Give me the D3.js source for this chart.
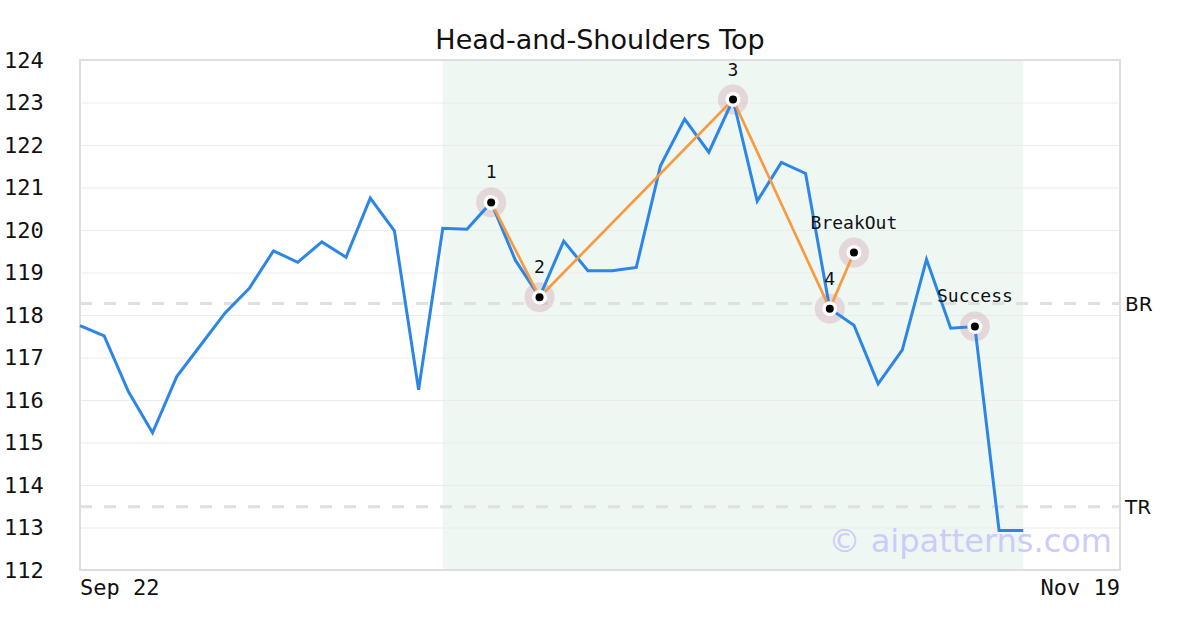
<!DOCTYPE html>
<html>
<head>
<meta charset="utf-8">
<title>Head-and-Shoulders Top</title>
<script src="https://cdn.jsdelivr.net/npm/d3@7"></script>
<style>
  html, body { margin: 0; padding: 0; background: #fff; }
  svg { display: block; }
</style>
</head>
<body>
<div id="chart"></div>
<script>
// --- Data ---
// closing price per trading day, index 0 = Sep 22
const prices = [
  117.75, 117.51, 116.20, 115.23, 116.55, 117.30, 118.05, 118.63, 119.51, 119.24,
  119.72, 119.36, 120.75, 119.98, 116.24, 120.04, 120.02, 120.65, 119.29, 118.42,
  119.74, 119.04, 119.04, 119.12, 121.51, 122.61, 121.83, 123.07, 120.68, 121.59,
  121.33, 118.15, 117.76, 116.38, 117.18, 119.31, 117.69, 117.73, 112.93, 112.93
];

// pattern pivots: label, day index, price
const pivotLabels = ["1", "2", "3", "4", "BreakOut", "Success"];
const pivotIndex  = [17, 19, 27, 31, 32, 37];
const pivotValues = [120.65, 118.42, 123.07, 118.15, 119.47, 117.73];
// how many pivots are joined by the orange zig-zag
const pivotLinked = 5;

// pattern window (day indices)
const patternSpan = [15, 39];

// horizontal reference levels
const levelNames  = ["BR", "TR"];
const levelValues = [118.27, 113.49];

// axes
const xDomain = [0, 43];
const xTickIndex  = [0, 43];
const xTickLabels = ["Sep 22", "Nov 19"];
const yDomain = [112, 124];
const yTicks  = d3.range(112, 125, 1);

const title = "Head-and-Shoulders Top";
const watermark = "\u00a9 aipatterns.com";

// --- Chart setup ---
const width = 1200;
const height = 630;
const margin = { top: 60, right: 80, bottom: 60, left: 80 };
const usableArea = {
  top: margin.top,
  right: width - margin.right,
  bottom: height - margin.bottom,
  left: margin.left,
};

const MONO = "'DejaVu Sans Mono', monospace";
const SANS = "'DejaVu Sans', sans-serif";

const svg = d3.select("#chart")
  .append("svg")
  .attr("width", width)
  .attr("height", height)
  .attr("viewBox", `0 0 ${width} ${height}`);

const xScale = d3.scaleLinear().domain(xDomain).range([usableArea.left, usableArea.right]);
const yScale = d3.scaleLinear().domain(yDomain).range([usableArea.bottom, usableArea.top]);

// shaded pattern window
svg.append("rect")
  .attr("x", xScale(patternSpan[0]))
  .attr("y", usableArea.top)
  .attr("width", xScale(patternSpan[1]) - xScale(patternSpan[0]))
  .attr("height", usableArea.bottom - usableArea.top)
  .attr("fill", "#eff7f3");

// gridlines
svg.append("g")
  .attr("class", "gridlines")
  .attr("transform", `translate(${usableArea.left}, 0)`)
  .call(d3.axisLeft(yScale).tickValues(yTicks).tickFormat("").tickSize(-(usableArea.right - usableArea.left)))
  .call(g => g.select(".domain").remove())
  .call(g => g.selectAll("line").attr("stroke", "#ebebeb").attr("stroke-width", 1));

// y tick labels (left, monospace)
svg.append("g")
  .selectAll("text")
  .data(yTicks)
  .join("text")
  .attr("x", 4)
  .attr("y", d => yScale(d))
  .attr("dy", "0.35em")
  .attr("font-family", MONO)
  .attr("font-size", 22)
  .attr("fill", "#111")
  .text(d => d);

// x tick labels
svg.append("g")
  .selectAll("text")
  .data(xTickIndex)
  .join("text")
  .attr("x", d => xScale(d))
  .attr("y", 595)
  .attr("text-anchor", (d, i) => i === 0 ? "start" : "end")
  .attr("font-family", MONO)
  .attr("font-size", 22)
  .attr("fill", "#111")
  .text((d, i) => xTickLabels[i]);

// dashed reference levels + their names on the right
const levels = svg.append("g").attr("class", "levels");
levels.selectAll("line")
  .data(levelValues)
  .join("line")
  .attr("x1", usableArea.left)
  .attr("x2", usableArea.right)
  .attr("y1", d => yScale(d))
  .attr("y2", d => yScale(d))
  .attr("stroke", "#e0e0e0")
  .attr("stroke-width", 3)
  .attr("stroke-dasharray", "12,12");
levels.selectAll("text")
  .data(levelValues)
  .join("text")
  .attr("x", usableArea.right + 5)
  .attr("y", d => yScale(d))
  .attr("dy", "0.35em")
  .attr("font-family", SANS)
  .attr("font-size", 20)
  .attr("fill", "#111")
  .text((d, i) => levelNames[i]);

// plot frame
svg.append("rect")
  .attr("x", usableArea.left)
  .attr("y", usableArea.top)
  .attr("width", usableArea.right - usableArea.left)
  .attr("height", usableArea.bottom - usableArea.top)
  .attr("fill", "none")
  .attr("stroke", "#dedede")
  .attr("stroke-width", 2);

// watermark
svg.append("text")
  .attr("x", 1112)
  .attr("y", 552)
  .attr("text-anchor", "end")
  .attr("font-family", SANS)
  .attr("font-size", 32)
  .attr("fill", "#ccccfb")
  .text(watermark);

// pivot objects for the marks
const pivots = pivotLabels.map((label, i) => ({ label, idx: pivotIndex[i], value: pivotValues[i] }));

// soft halos under the lines
svg.append("g")
  .selectAll("circle")
  .data(pivots)
  .join("circle")
  .attr("cx", d => xScale(d.idx))
  .attr("cy", d => yScale(d.value))
  .attr("r", 15)
  .attr("fill", "#c0788c")
  .attr("fill-opacity", 0.25);

// price line
const priceLine = d3.line()
  .x((d, i) => xScale(i))
  .y(d => yScale(d));

svg.append("path")
  .datum(prices)
  .attr("fill", "none")
  .attr("stroke", "#2b86e8")
  .attr("stroke-width", 3)
  .attr("stroke-linejoin", "miter")
  .attr("d", priceLine);

// orange zig-zag through the pattern pivots
const zigzag = d3.line()
  .x(d => xScale(d.idx))
  .y(d => yScale(d.value));

svg.append("path")
  .datum(pivots.slice(0, pivotLinked))
  .attr("fill", "none")
  .attr("stroke", "#f79a40")
  .attr("stroke-width", 2.7)
  .attr("d", zigzag);

// pivot markers: white ring + black dot
const marks = svg.append("g").attr("class", "pivots");
marks.selectAll("circle.ring")
  .data(pivots)
  .join("circle")
  .attr("class", "ring")
  .attr("cx", d => xScale(d.idx))
  .attr("cy", d => yScale(d.value))
  .attr("r", 7.5)
  .attr("fill", "#fff");
marks.selectAll("circle.dot")
  .data(pivots)
  .join("circle")
  .attr("class", "dot")
  .attr("cx", d => xScale(d.idx))
  .attr("cy", d => yScale(d.value))
  .attr("r", 4)
  .attr("fill", "#000");

// pivot labels
marks.selectAll("text")
  .data(pivots)
  .join("text")
  .attr("x", d => xScale(d.idx))
  .attr("y", d => yScale(d.value) - 24)
  .attr("text-anchor", "middle")
  .attr("font-family", MONO)
  .attr("font-size", 18)
  .attr("fill", "#111")
  .text(d => d.label);

// title
svg.append("text")
  .attr("x", 600)
  .attr("y", 49)
  .attr("text-anchor", "middle")
  .attr("font-family", SANS)
  .attr("font-size", 27)
  .attr("fill", "#111")
  .text(title);
</script>
</body>
</html>
